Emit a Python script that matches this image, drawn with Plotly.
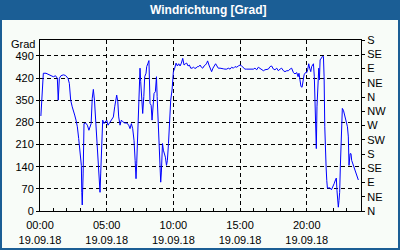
import pandas as pd
import plotly.graph_objects as go

# minutes after 2018-09-19 00:00
minutes = [4, 9, 15, 27, 38, 48, 60, 70, 78, 82, 87, 94, 105, 115, 126, 132, 138, 145, 150, 156,
           162, 168, 174, 180, 186, 188, 190, 194, 198, 205, 213, 220, 225, 230, 235, 240, 245, 249,
           255, 261, 265, 270, 273, 278, 282, 288, 294, 300, 306, 312, 318, 324, 330, 336, 340, 345,
           350, 354, 360, 366, 372, 381, 390, 399, 405, 411, 417, 423, 428, 432, 435, 440, 446, 450,
           453, 458, 462, 467, 471, 477, 480, 486, 490, 495, 500, 504, 509, 513, 519, 524, 527, 531,
           536, 540, 543, 546, 551, 555, 560, 564, 569, 573, 578, 582, 588, 594, 600, 606, 612, 618,
           624, 630, 636, 642, 648, 654, 660, 666, 672, 678, 684, 690, 696, 702, 708, 714,
           720, 726, 732, 738, 744, 750, 754, 760, 766, 772, 778, 784, 790, 796, 802, 810, 817, 825,
           832, 840, 847, 855, 862, 870, 877, 885, 892, 900, 907, 915, 922, 930, 937, 945, 952, 960,
           967, 975, 982, 990, 997, 1005, 1012, 1020, 1027, 1035, 1042, 1050, 1057, 1065, 1072, 1080,
           1087, 1095, 1102, 1110, 1117, 1125, 1132, 1140, 1147, 1155, 1161, 1165, 1170, 1174, 1179,
           1183, 1188, 1194, 1200, 1204, 1209, 1213, 1218, 1222, 1227, 1230, 1234, 1237, 1240, 1243,
           1246, 1251, 1254, 1257, 1260, 1266, 1270, 1275, 1278, 1281, 1284, 1287, 1290, 1293, 1299,
           1305, 1311, 1317, 1323, 1329, 1333, 1336, 1339, 1342, 1345, 1348, 1351, 1356, 1360, 1365,
           1369, 1374, 1378, 1383, 1387, 1390, 1395, 1399, 1402, 1407, 1411, 1416, 1420, 1426, 1432]

direction = [300, 382, 435, 435, 432, 427, 424, 427, 419, 350, 419, 427, 430, 428, 419, 403, 350, 329, 313, 303,
             287, 266, 229, 181, 144, 59, 19, 117, 276, 278, 271, 255, 264, 276, 356, 384, 350, 297,
             223, 149, 86, 59, 117, 223, 287, 276, 282, 287, 271, 278, 287, 292, 297, 329, 350, 366,
             345, 297, 271, 287, 282, 278, 278, 271, 260, 276, 260, 223, 160, 102, 149, 245, 340, 451,
             409, 366, 308, 361, 424, 435, 456, 467, 475, 340, 334, 287, 329, 371, 377, 424, 361, 276,
             202, 144, 91, 123, 213, 192, 181, 170, 144, 160, 213, 266, 350, 382, 440, 451, 467, 458,
             465, 458, 467, 482, 461, 465, 467, 458, 461, 451, 451, 454, 451, 451, 456, 456,
             461, 454, 451, 458, 461, 467, 474, 461, 451, 440, 451, 458, 465, 458, 451, 451, 451, 449,
             448, 448, 451, 448, 454, 451, 456, 454, 458, 461, 458, 451, 448, 448, 448, 448, 446, 448,
             451, 446, 454, 451, 446, 443, 446, 448, 448, 456, 458, 448, 446, 451, 443, 448,
             451, 443, 440, 443, 443, 448, 451, 437, 433, 437, 424, 435, 403, 393, 391,
             416, 430, 437, 437, 446, 465, 451, 440, 456, 461, 465, 424, 350, 255, 197,
             329, 393, 451, 414, 477, 483, 488, 488, 424, 266, 170, 139, 96, 72, 73,
             73, 67, 75, 86, 98, 104, 64, 43, 12, 33, 59, 139, 234, 324, 318,
             308, 297, 287, 266, 234, 144, 181, 181, 160, 149, 139, 133, 123, 112, 98]

left_ticks = [0, 70, 140, 210, 280, 350, 420, 490]
right_ticks = [0, 45, 90, 135, 180, 225, 270, 315, 360, 405, 450, 495, 540]
right_labels = ["N", "NE", "E", "SE", "S", "SW", "W", "NW", "N", "NE", "E", "SE", "S"]

base = pd.Timestamp("2018-09-19 00:00")
times = base + pd.to_timedelta(minutes, unit="m")

BLUE_BAR = "#1b5e95"
BG = "#f8fcf8"
FONT = "Liberation Sans"

fig = go.Figure()
fig.add_trace(go.Scatter(x=times, y=direction, mode="lines",
                         line=dict(color="#0000ff", width=1), hoverinfo="skip", showlegend=False))
fig.add_trace(go.Scatter(x=times, y=direction, mode="lines", yaxis="y2", opacity=0,
                         line=dict(color="#0000ff", width=1), hoverinfo="skip", showlegend=False))

W, H = 400, 250
L, R, T, B = 40, 39, 40, 39
pw, ph = W - L - R, H - T - B


def px(x):
    return (x - L) / pw


def py(y):
    return (H - B - y) / ph


fig.update_layout(
    width=W, height=H,
    margin=dict(l=L, r=R, t=T, b=B, pad=0, autoexpand=False),
    paper_bgcolor=BG, plot_bgcolor=BG,
    font=dict(family=FONT, size=11, color="#000000"),
    xaxis=dict(
        type="date", automargin=False,
        range=[base, base + pd.Timedelta(minutes=1444)],
        dtick=5 * 3600000, tick0=base,
        tickformat="%H:%M<br>%d.%m.%y",
        ticks="inside", ticklen=3, tickcolor="#000",
        ticklabelstandoff=4,
        minor=dict(dtick=3600000, ticks="inside", ticklen=3, tickcolor="#000", showgrid=False),
        showgrid=True, gridcolor="#000", gridwidth=1, griddash="4px,3px",
        showline=True, linecolor="#000", linewidth=1, mirror=True,
        zeroline=False, fixedrange=True,
    ),
    yaxis=dict(
        automargin=False,
        range=[0, 540], tickvals=left_ticks,
        ticks="outside", ticklen=3, tickcolor="#000",
        showgrid=True, gridcolor="#000", gridwidth=1, griddash="4px,3px",
        showline=True, linecolor="#000", linewidth=1, mirror=True,
        zeroline=False, fixedrange=True,
    ),
    yaxis2=dict(
        automargin=False,
        range=[0, 540], overlaying="y", side="right",
        tickvals=right_ticks, ticktext=right_labels,
        ticks="outside", ticklen=3, tickcolor="#000",
        showgrid=False, showline=True, linecolor="#000", linewidth=1,
        zeroline=False, fixedrange=True,
    ),
    shapes=[
        dict(type="rect", xref="paper", yref="paper", layer="below",
             x0=px(0), x1=px(W), y0=py(20), y1=py(0),
             fillcolor=BLUE_BAR, line=dict(width=0)),
        dict(type="rect", xref="paper", yref="paper",
             x0=px(1), x1=px(W - 1), y0=py(H - 1), y1=py(10),
             fillcolor="rgba(0,0,0,0)", line=dict(color=BLUE_BAR, width=2)),
    ],
    annotations=[
        dict(text="<b>Windrichtung [Grad]</b>", xref="paper", yref="paper",
             x=px(209), y=py(10), xanchor="center", yanchor="middle", showarrow=False,
             font=dict(family=FONT, size=12, color="#ffffff")),
        dict(text="Grad", xref="paper", yref="paper",
             x=px(37), y=py(44), xanchor="right", yanchor="middle", showarrow=False,
             font=dict(family=FONT, size=11, color="#000000")),
    ],
)

fig.write_html("out.html", config={"displayModeBar": False})
